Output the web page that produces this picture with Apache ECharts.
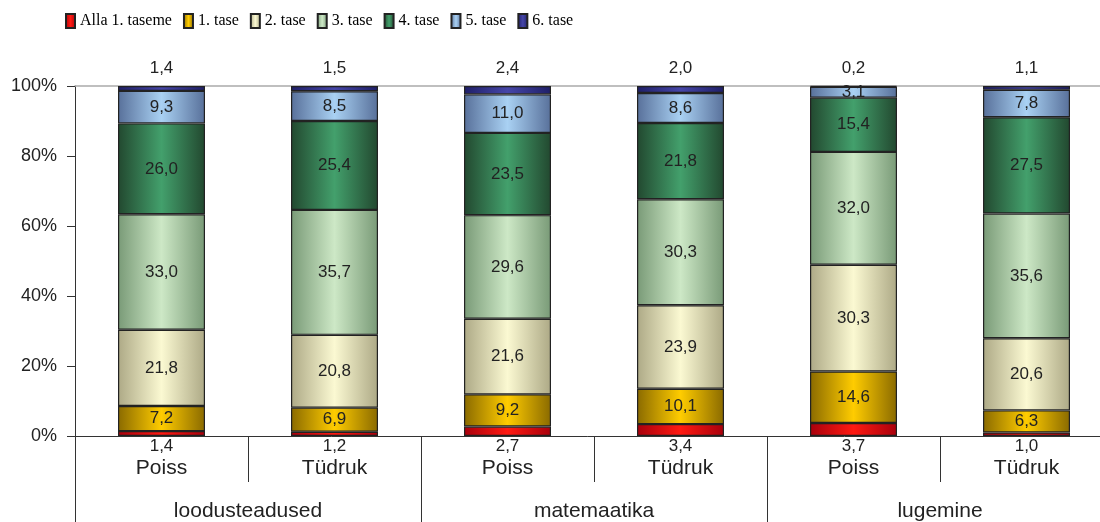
<!DOCTYPE html>
<html>
<head>
<meta charset="utf-8">
<script src="https://cdn.jsdelivr.net/npm/echarts@6/dist/echarts.min.js"></script>
<style>html,body{margin:0;padding:0;background:#fff}#c{width:1100px;height:522px}</style>
</head>
<body>
<div id="c"></div>
<script>
var categories = ['Poiss', 'Tüdruk', 'Poiss', 'Tüdruk', 'Poiss', 'Tüdruk'];
var groups = ['loodusteadused', 'matemaatika', 'lugemine'];
var seriesNames = ['Alla 1. taseme', '1. tase', '2. tase', '3. tase', '4. tase', '5. tase', '6. tase'];
var alla1 = [1.4, 1.2, 2.7, 3.4, 3.7, 1.0];
var tase1 = [7.2, 6.9, 9.2, 10.1, 14.6, 6.3];
var tase2 = [21.8, 20.8, 21.6, 23.9, 30.3, 20.6];
var tase3 = [33.0, 35.7, 29.6, 30.3, 32.0, 35.6];
var tase4 = [26.0, 25.4, 23.5, 21.8, 15.4, 27.5];
var tase5 = [9.3, 8.5, 11.0, 8.6, 3.1, 7.8];
var tase6 = [1.4, 1.5, 2.4, 2.0, 0.2, 1.1];
var yTicks = [0, 20, 40, 60, 80, 100];

var raw = [alla1, tase1, tase2, tase3, tase4, tase5, tase6];
var totals = categories.map(function (_, i) {
  return raw.reduce(function (s, arr) { return s + arr[i]; }, 0);
});

var palette = [
  ['#a8000c', '#ff1a12', '#a8000c'],
  ['#8a6a00', '#ffcc00', '#8a6a00'],
  ['#ada986', '#fbf9d2', '#ada986'],
  ['#799a77', '#cde8c6', '#799a77'],
  ['#22482f', '#43a06c', '#22482f'],
  ['#58709a', '#a9d1f3', '#58709a'],
  ['#1f1f68', '#4646a8', '#1f1f68']
];
function grad(c) {
  return new echarts.graphic.LinearGradient(0, 0, 1, 0, [
    { offset: 0, color: c[0] }, { offset: 0.5, color: c[1] }, { offset: 1, color: c[2] }
  ]);
}
var FONT = 'Liberation Sans';

var series = raw.map(function (arr, si) {
  var pos = 'inside', dist = 5;
  if (si === 0) { pos = 'bottom'; dist = 2; }
  if (si === 6) { pos = 'top'; dist = 9; }
  return {
    name: seriesNames[si],
    type: 'bar',
    stack: 'total',
    barWidth: 87,
    xAxisIndex: 0,
    data: arr.map(function (v, i) { return v / totals[i] * 100; }),
    itemStyle: { color: grad(palette[si]), borderColor: '#222', borderWidth: 1.2 },
    label: {
      show: true,
      position: pos,
      distance: dist,
      fontFamily: FONT,
      fontSize: 17,
      color: '#222',
      formatter: function (p) { return raw[si][p.dataIndex].toFixed(1).replace('.', ','); }
    },
    emphasis: { disabled: true },
    animation: false
  };
});

var chart = echarts.init(document.getElementById('c'), null, { renderer: 'canvas' });
chart.setOption({
  animation: false,
  backgroundColor: '#fff',
  legend: {
    left: 65,
    top: 13,
    padding: 0,
    icon: 'rect',
    itemWidth: 9,
    itemHeight: 14,
    itemGap: 11,
    textStyle: { fontFamily: 'Liberation Serif', fontSize: 16, color: '#000' },
    data: seriesNames
  },
  grid: { left: 75, top: 86, width: 1038, height: 350, containLabel: false, outerBoundsMode: 'none' },
  xAxis: [
    {
      type: 'category',
      data: categories,
      position: 'bottom',
      axisLine: { show: true, lineStyle: { color: '#333', width: 1 } },
      axisTick: { show: true, length: 46, lineStyle: { color: '#333' } },
      axisLabel: { fontFamily: FONT, fontSize: 21, color: '#222', margin: 22 }
    },
    {
      type: 'category',
      data: groups,
      position: 'bottom',
      axisLine: { show: false },
      axisTick: { show: true, length: 92, lineStyle: { color: '#333' } },
      axisLabel: { fontFamily: FONT, fontSize: 21, color: '#222', margin: 65 },
      splitLine: { show: false }
    },
    {
      type: 'category',
      data: groups,
      position: 'top',
      axisLine: { show: true, lineStyle: { color: '#aaa', width: 1.5 } },
      axisTick: { show: false },
      axisLabel: { show: false },
      splitLine: { show: false }
    }
  ],
  yAxis: {
    type: 'value',
    min: yTicks[0],
    max: yTicks[yTicks.length - 1],
    interval: yTicks[1] - yTicks[0],
    axisLine: { show: true, lineStyle: { color: '#333' } },
    axisTick: { show: true, length: 8, lineStyle: { color: '#333' } },
    splitLine: { show: false },
    axisLabel: { fontFamily: FONT, fontSize: 18, color: '#222', margin: 18, formatter: '{value}%' }
  },
  series: series
});
</script>
</body>
</html>
